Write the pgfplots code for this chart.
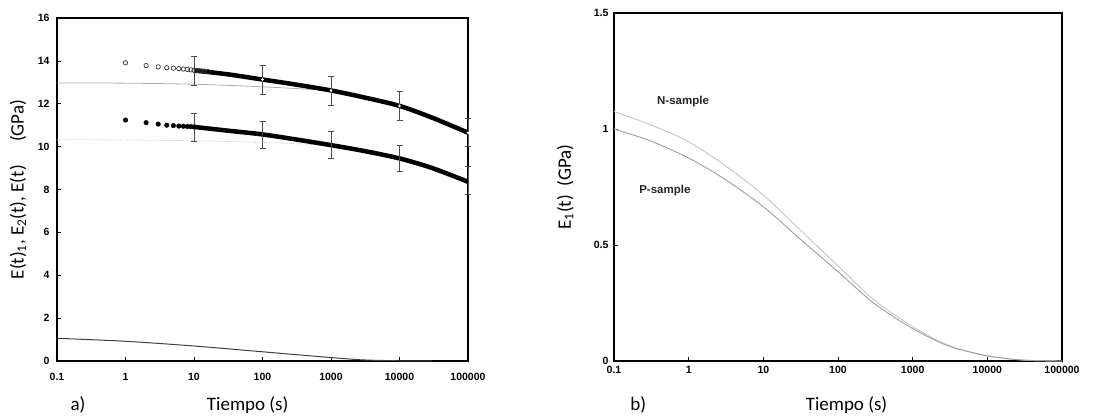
\documentclass[border=0pt]{standalone}
\usepackage{pgfplots}
\pgfplotsset{compat=1.18}
\usepackage{fontspec}
\setmainfont{Carlito}
\newfontfamily\tickfont{Liberation Sans}

\begin{document}
\begin{tikzpicture}
\path[use as bounding box] (0pt,0pt) rectangle (1106pt,416pt);
% ---------------- panel a ----------------
\begin{axis}[
  xmode=log, xmin=0.1, xmax=100000,
  xtick={0.1,1,10,100,1000,10000,100000},
  xticklabels={0.1,1,10,100,1000,10000,100000},
  xminorticks=false, yminorticks=false,
  tick align=inside, xtick pos=bottom, ytick pos=left,
  major tick length=4pt,
  tick style={black, line width=0.6pt},
  tick label style={font=\tickfont\bfseries\fontsize{10.5}{12}\selectfont},
  scale only axis, clip=false,
  at={(57pt,55pt)}, anchor=south west,
  width=411pt, height=343pt,
  ymin=0, ymax=16,
  ytick={0,2,4,6,8,10,12,14,16},
  yticklabels={0,2,4,6,8,10,12,14,16},
  axis line style={line width=1.6pt},
  xticklabel style={yshift=-9pt},
  yticklabel style={xshift=-4pt},
]
% thin fitted lines
\addplot[gray!65, line width=0.8pt, smooth] coordinates {
 (0.1,12.97) (1,12.96) (10,12.91) (100,12.79) (1000,12.62)};
\addplot[gray!45, line width=0.8pt, densely dotted, smooth] coordinates {
 (0.1,10.32) (1,10.31) (10,10.27) (100,10.2) (1000,10.06)};
\addplot[black!75, line width=1pt, smooth] coordinates {
 (0.1,1.06) (1,0.92) (10,0.70) (100,0.43) (1000,0.16) (3000,0.05) (10000,0.01) (30000,0)};
% thick bands (dense markers)
\addplot[black, line width=4.5pt, smooth] coordinates {
 (10,13.55) (30,13.38) (100,13.13) (300,12.9) (1000,12.62) (3000,12.3) (10000,11.9) (30000,11.35) (100000,10.65)};
\addplot[black, line width=4.5pt, smooth] coordinates {
 (10,10.92) (30,10.75) (100,10.57) (300,10.34) (1000,10.07) (3000,9.8) (10000,9.45) (30000,9.0) (100000,8.36)};
% open circles
\addplot[only marks, mark=o, mark size=2.2pt, black!80, mark options={line width=0.7pt, fill=white}] coordinates {
 (1,13.91) (2,13.78) (3,13.72) (4,13.68) (5,13.66) (6,13.64) (7,13.62) (8,13.6) (9,13.58) (10,13.56) (11,13.55) (12,13.54) (13,13.53) (14,13.52) (16,13.5)};
% filled circles
\addplot[only marks, mark=*, mark size=2.3pt, black] coordinates {
 (1,11.24) (2,11.12) (3,11.05) (4,11.0) (5,10.98) (6,10.96) (7,10.95) (8,10.94) (9,10.93) (10,10.92)};
% small white highlights on upper band
\addplot[only marks, mark=*, mark size=1.1pt, white] coordinates {
 (100,13.13) (1000,12.62) (10000,11.9) (100000,10.65)};
% error bars
\addplot[black!70, line width=0.7pt, draw=none, mark=none,
  error bars/.cd, y dir=both, y explicit,
  error bar style={line width=0.7pt, black!70},
  error mark options={line width=0.7pt, mark size=3pt, rotate=90}] coordinates {
 (10,13.52) +- (0,0.67) (100,13.13) +- (0,0.67) (1000,12.6) +- (0,0.67) (10000,11.9) +- (0,0.67) (100000,10.65) +- (0,0.65)};
\addplot[black!70, line width=0.7pt, draw=none, mark=none,
  error bars/.cd, y dir=both, y explicit,
  error bar style={line width=0.7pt, black!70},
  error mark options={line width=0.7pt, mark size=3pt, rotate=90}] coordinates {
 (10,10.9) +- (0,0.64) (100,10.54) +- (0,0.63) (1000,10.07) +- (0,0.63) (10000,9.45) +- (0,0.62) (100000,8.43) +- (0,0.64)};
\node[rotate=90, font=\fontsize{19}{22}\selectfont] at (axis description cs:-0.095,0.5)
  {E(t)\textsubscript{1}, E\textsubscript{2}(t), E(t)\quad\ (GPa)};
\node[anchor=base, font=\fontsize{19}{22}\selectfont] at (axis description cs:0.464,-0.145) {Tiempo (s)};
\node[anchor=base, font=\fontsize{19}{22}\selectfont] at (axis description cs:0.051,-0.145) {a)};
\end{axis}
% ---------------- panel b ----------------
\begin{axis}[
  xmode=log, xmin=0.1, xmax=100000,
  xtick={0.1,1,10,100,1000,10000,100000},
  xticklabels={0.1,1,10,100,1000,10000,100000},
  xminorticks=false, yminorticks=false,
  tick align=inside, xtick pos=bottom, ytick pos=left,
  major tick length=4pt,
  tick style={black, line width=0.6pt},
  tick label style={font=\tickfont\bfseries\fontsize{10.5}{12}\selectfont},
  scale only axis, clip=false,
  at={(614pt,55pt)}, anchor=south west,
  width=448pt, height=348pt,
  ymin=0, ymax=1.5,
  ytick={0,0.5,1,1.5},
  yticklabels={0,0.5,1,1.5},
  axis line style={line width=1.3pt},
  xticklabel style={yshift=-2pt},
  yticklabel style={xshift=-2pt},
]
\addplot[gray!45, line width=0.9pt, smooth] coordinates {
 (0.1,1.075) (0.3,1.02) (1,0.945) (3,0.845) (10,0.715) (30,0.57) (100,0.41) (300,0.265) (1000,0.148) (3000,0.068) (10000,0.023) (30000,0.004) (100000,0)};
\addplot[gray!75, line width=0.9pt, smooth] coordinates {
 (0.1,1.0) (0.3,0.95) (1,0.875) (3,0.785) (10,0.665) (30,0.53) (100,0.385) (300,0.25) (1000,0.14) (3000,0.065) (10000,0.022) (30000,0.004) (100000,0)};
\node[font=\tickfont\bfseries\fontsize{11.5}{13}\selectfont, black!85] at (axis cs:0.84,1.12) {N-sample};
\node[font=\tickfont\bfseries\fontsize{11.5}{13}\selectfont, black!85] at (axis cs:0.48,0.733) {P-sample};
\node[rotate=90, font=\fontsize{19}{22}\selectfont] at (axis description cs:-0.109,0.5)
  {E\textsubscript{1}(t)\ \ (GPa)};
\node[anchor=base, font=\fontsize{19}{22}\selectfont] at (axis description cs:0.519,-0.143) {Tiempo (s)};
\node[anchor=base, font=\fontsize{19}{22}\selectfont] at (axis description cs:0.054,-0.143) {b)};
\end{axis}
\end{tikzpicture}
\end{document}
